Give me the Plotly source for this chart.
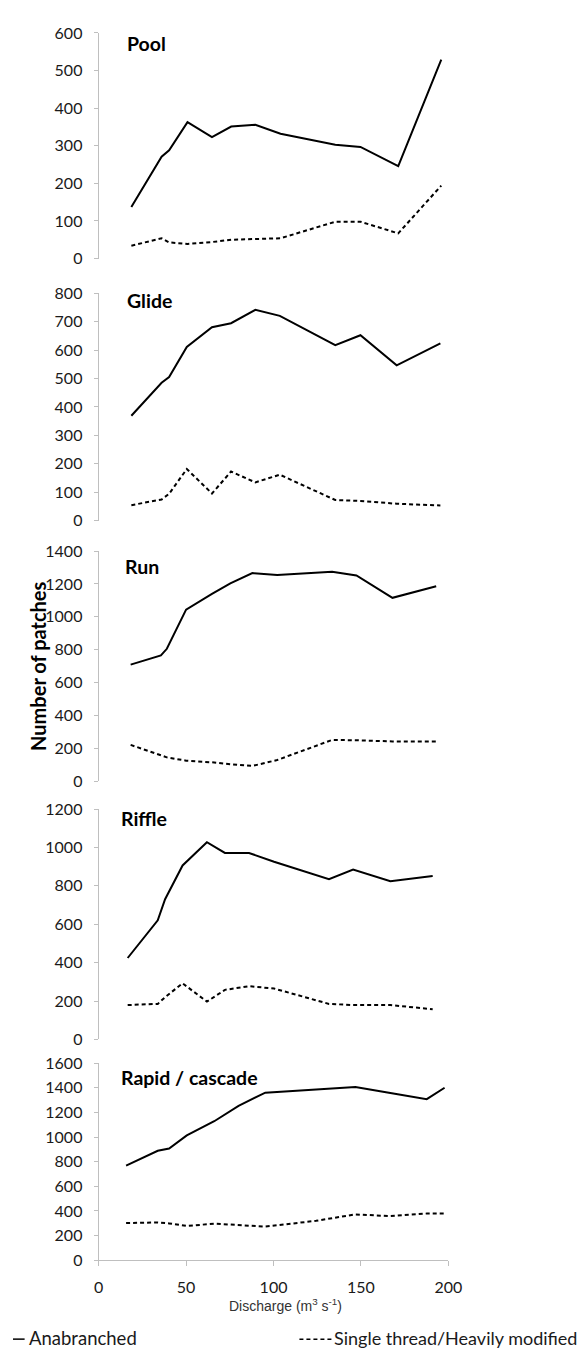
import plotly.graph_objects as go

W, H = 587, 1349

# ---------------- data ----------------
pool_q = [18.7, 36.0, 40.3, 50.8, 64.8, 75.8, 89.6, 104.0, 135.3, 149.7, 171.3, 195.9]
pool_anab = [137, 271, 288, 363, 323, 351, 356, 332, 303, 297, 246, 529]
pool_single = [34, 54, 43, 39, 44, 50, 52, 54, 98, 98, 67, 194]

glide_q = [18.7, 36.0, 40.3, 50.4, 64.8, 75.7, 89.6, 103.6, 135.3, 149.7, 170.4, 195.4]
glide_anab = [369, 485, 505, 611, 680, 694, 741, 720, 617, 652, 546, 623]
glide_single = [55, 75, 95, 182, 96, 173, 135, 162, 73, 70, 60, 54]

run_q = [18.3, 35.6, 39.0, 50.0, 64.8, 75.3, 87.9, 102.1, 133.5, 147.4, 168.0, 193.0]
run_anab = [710, 766, 806, 1044, 1140, 1204, 1266, 1254, 1274, 1252, 1116, 1186]
run_single = [222, 155, 146, 126, 116, 104, 94, 130, 252, 250, 243, 242]

riffle_q = [16.6, 33.8, 38.0, 48.0, 61.9, 72.2, 86.0, 100.3, 131.7, 145.5, 166.8, 191.0]
riffle_anab = [424, 620, 730, 906, 1027, 971, 971, 925, 834, 885, 824, 851]
riffle_single = [179, 185, 220, 292, 197, 258, 277, 265, 185, 179, 179, 157]

rapid_q = [15.7, 33.8, 40.3, 50.4, 66.1, 80.0, 95.3, 124.3, 146.8, 166.8, 187.6, 197.8]
rapid_anab = [768, 888, 907, 1013, 1128, 1253, 1360, 1387, 1405, 1357, 1307, 1400]
rapid_single = [302, 307, 299, 278, 297, 284, 273, 320, 372, 358, 379, 379]

panel_names = ["Pool", "Glide", "Run", "Riffle", "Rapid / cascade"]
panel_ymax = [600, 800, 1400, 1200, 1600]
panel_dtick = [100, 100, 200, 200, 200]
x_ticks = [0, 50, 100, 150, 200]
series_names = ["Anabranched", "Single thread/Heavily modified"]
y_title = "Number of patches"
x_title = "Discharge (m<sup>3</sup> s<sup>-1</sup>)"

panels = [
    (pool_q, pool_anab, pool_single),
    (glide_q, glide_anab, glide_single),
    (run_q, run_anab, run_single),
    (riffle_q, riffle_anab, riffle_single),
    (rapid_q, rapid_anab, rapid_single),
]

# ---------------- layout geometry (pixels) ----------------
# (top pixel of ymax, bottom pixel of 0)
panel_px = [(15.2, 244.0), (279.0, 510.0), (540.7, 774.3), (802.3, 1036.0), (1060.0, 1260.0)]
title_px = [(116, 26), (116, 287), (114, 556), (110, 812), (110, 1075)]
x0_px, x1_px = 88.5, 450.0


def fx(p):
    return p / W


def fy(p):
    return 1 - p / H


FONT = "Lato"
AXIS_COL = "#bfbfbf"
TXT = "#1a1a1a"

fig = go.Figure()
layout = dict(
    width=W, height=H,
    margin=dict(l=0, r=0, t=0, b=0),
    paper_bgcolor="white", plot_bgcolor="white",
    showlegend=False,
    font=dict(family=FONT, color=TXT, size=16),
)

annotations = []
for i, ((q, a, s), name) in enumerate(zip(panels, panel_names)):
    n = i + 1
    xa = "x" if n == 1 else f"x{n}"
    ya = "y" if n == 1 else f"y{n}"
    fig.add_trace(go.Scatter(x=q, y=a, mode="lines", name=series_names[0],
                             line=dict(color="black", width=2),
                             xaxis=xa, yaxis=ya))
    fig.add_trace(go.Scatter(x=q, y=s, mode="lines", name=series_names[1],
                             line=dict(color="black", width=2, dash="4px,3px"),
                             xaxis=xa, yaxis=ya))
    top, bot = panel_px[i]
    last = (n == 5)
    xdef = dict(domain=[fx(x0_px), fx(x1_px)], range=[0, 200], anchor=ya,
                showgrid=False, zeroline=False)
    if last:
        xdef.update(showline=True, linecolor=AXIS_COL, linewidth=1,
                    ticks="outside", ticklen=5, tickcolor=AXIS_COL,
                    tickvals=x_ticks, ticklabelstandoff=8,
                    tickfont=dict(family=FONT, size=16, color=TXT))
    else:
        xdef.update(visible=False)
    layout[f"xaxis{'' if n == 1 else n}"] = xdef
    layout[f"yaxis{'' if n == 1 else n}"] = dict(
        domain=[fy(bot), fy(top)], range=[0, panel_ymax[i]],
        anchor=xa, showgrid=False, zeroline=False,
        showline=True, linecolor=AXIS_COL, linewidth=1,
        ticks="outside", ticklen=4, tickcolor=AXIS_COL,
        tickmode="linear", tick0=0, dtick=panel_dtick[i],
        ticklabelstandoff=8,
        tickfont=dict(family=FONT, size=16, color=TXT),
    )
    tx, ty = title_px[i]
    annotations.append(dict(text=f"<b>{name}</b>", x=fx(tx), y=fy(ty), xref="paper", yref="paper",
                            xanchor="left", yanchor="middle", showarrow=False,
                            font=dict(family=FONT, size=19.5, color="black")))

# y axis title
annotations.append(dict(text=f"<b>{y_title}</b>", x=fx(26), y=fy(658), xref="paper", yref="paper",
                        xanchor="center", yanchor="middle", showarrow=False, textangle=-90,
                        font=dict(family=FONT, size=20, color="black")))
# x axis title
annotations.append(dict(text=x_title, x=fx(282), y=fy(1305), xref="paper", yref="paper",
                        xanchor="center", yanchor="middle", showarrow=False,
                        font=dict(family="Liberation Sans", size=14, color="#333333")))
# legend texts
annotations.append(dict(text=series_names[0], x=fx(14), y=fy(1339), xref="paper", yref="paper",
                        xanchor="left", yanchor="middle", showarrow=False,
                        font=dict(family=FONT, size=18.5, color=TXT)))
annotations.append(dict(text=series_names[1], x=fx(585), y=fy(1339), xref="paper", yref="paper",
                        xanchor="right", yanchor="middle", showarrow=False,
                        font=dict(family=FONT, size=18, color=TXT)))

shapes = [
    dict(type="line", xref="paper", yref="paper", x0=fx(0), x1=fx(12), y0=fy(1340), y1=fy(1340),
         line=dict(color="black", width=1.5)),
    dict(type="line", xref="paper", yref="paper", x0=fx(296), x1=fx(330), y0=fy(1340), y1=fy(1340),
         line=dict(color="black", width=1.5, dash="4px,3px")),
]

layout["annotations"] = annotations
layout["shapes"] = shapes
fig.update_layout(**layout)
fig.write_html("out.html")
